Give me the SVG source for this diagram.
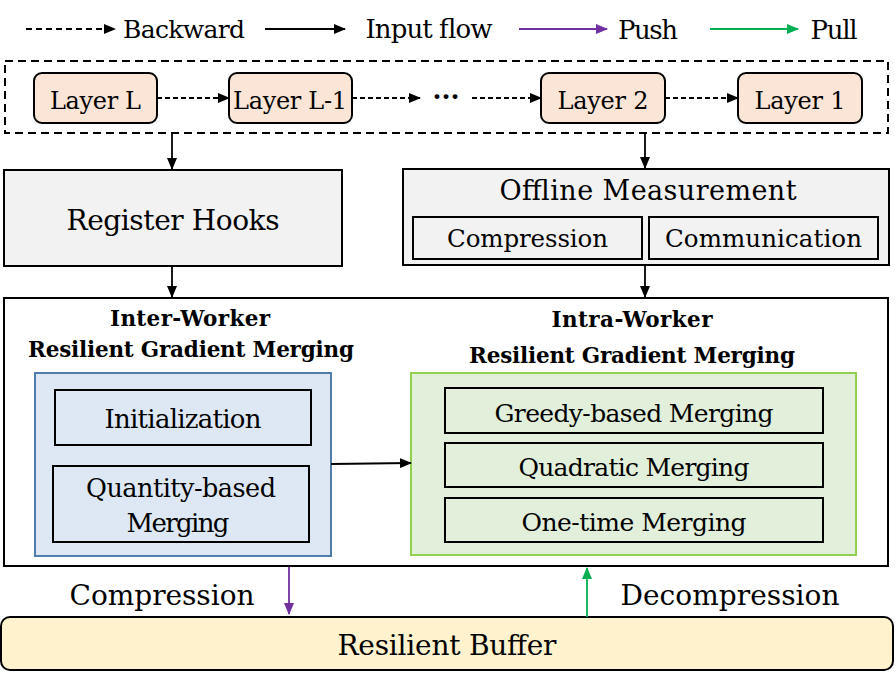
<svg xmlns="http://www.w3.org/2000/svg" width="895" height="684" viewBox="0 0 895 684">
<style>
text{font-family:"DejaVu Serif","Liberation Serif",serif;fill:#000;text-anchor:middle}
.b{font-weight:bold}
.box{stroke:#000;stroke-width:2}
.ln{fill:none;stroke:#000;stroke-width:1.8}
.dash{stroke-dasharray:5 3}
</style>
<defs>
<marker id="ah" markerUnits="userSpaceOnUse" markerWidth="12" markerHeight="10" refX="11" refY="5" orient="auto"><path d="M0,0 L12,5 L0,10 Z" fill="#000"/></marker>
<marker id="ahp" markerUnits="userSpaceOnUse" markerWidth="12" markerHeight="10" refX="11" refY="5" orient="auto"><path d="M0,0 L12,5 L0,10 Z" fill="#7030a0"/></marker>
<marker id="ahg" markerUnits="userSpaceOnUse" markerWidth="12" markerHeight="10" refX="11" refY="5" orient="auto"><path d="M0,0 L12,5 L0,10 Z" fill="#00b050"/></marker>
</defs>
<rect width="895" height="684" fill="#fff"/>

<g id="legend">
<line x1="26" y1="29" x2="115" y2="29" class="ln" stroke-dasharray="6 4" marker-end="url(#ah)"/>
<text x="184" y="38" font-size="25" textLength="122">Backward</text>
<line x1="265" y1="29" x2="345" y2="29" class="ln" marker-end="url(#ah)"/>
<text x="429" y="38" font-size="26" textLength="127">Input flow</text>
<line x1="519" y1="29" x2="607" y2="29" class="ln" style="stroke:#7030a0" marker-end="url(#ahp)"/>
<text x="648" y="39" font-size="26" textLength="60">Push</text>
<line x1="710" y1="29" x2="798" y2="29" class="ln" style="stroke:#00b050" marker-end="url(#ahg)"/>
<text x="834" y="39" font-size="26" textLength="47">Pull</text>
</g>

<g id="layers">
<rect x="5" y="61" width="883" height="72" fill="none" stroke="#000" stroke-width="2" stroke-dasharray="8 5"/>
<g id="layerL"><rect x="34" y="73" width="123" height="50" rx="8" fill="#fbe5d6" class="box"/><text x="95.5" y="109" font-size="24" textLength="91">Layer L</text></g>
<g id="layerL1"><rect x="229" y="73" width="123" height="50" rx="8" fill="#fbe5d6" class="box"/><text x="290" y="109" font-size="24" textLength="114">Layer L-1</text></g>
<text x="446" y="106" font-size="26" class="b">···</text>
<g id="layer2"><rect x="541" y="73" width="124" height="50" rx="8" fill="#fbe5d6" class="box"/><text x="603" y="109" font-size="24" textLength="91">Layer 2</text></g>
<g id="layer1"><rect x="738" y="73" width="124" height="50" rx="8" fill="#fbe5d6" class="box"/><text x="800" y="109" font-size="24" textLength="91">Layer 1</text></g>
</g>

<g id="registerHooks">
<rect x="4" y="170" width="338" height="96" fill="#f2f2f2" class="box"/>
<text x="173" y="230" font-size="28" textLength="213">Register Hooks</text>
</g>

<g id="offline">
<rect x="403" y="169" width="486" height="96" fill="#f2f2f2" class="box"/>
<text x="648" y="200" font-size="27" textLength="297">Offline Measurement</text>
<rect x="413" y="217" width="229" height="42" fill="#f2f2f2" class="box"/>
<text x="527.5" y="247" font-size="24.5" textLength="161">Compression</text>
<rect x="649" y="217" width="229" height="42" fill="#f2f2f2" class="box"/>
<text x="763.5" y="247" font-size="24.5" textLength="197">Communication</text>
</g>

<g id="merging">
<rect x="4" y="298" width="884" height="268" fill="#fff" class="box"/>
<text x="190" y="326" font-size="21.5" class="b" textLength="160">Inter-Worker</text>
<text x="191" y="357" font-size="21.5" class="b" textLength="326">Resilient Gradient Merging</text>
<text x="632" y="327" font-size="21.5" class="b" textLength="161">Intra-Worker</text>
<text x="632" y="363" font-size="21.5" class="b" textLength="326">Resilient Gradient Merging</text>
</g>

<g id="inter">
<rect x="35" y="373" width="296" height="183" fill="#dde8f4" stroke="#4f7cac" stroke-width="2"/>
<rect x="55" y="390" width="256" height="55" fill="#dde8f4" class="box"/>
<text x="183" y="428" font-size="26" textLength="157">Initialization</text>
<rect x="53" y="466" width="256" height="76" fill="#dde8f4" class="box"/>
<text x="181" y="497" font-size="25.5" textLength="190">Quantity-based</text>
<text x="178" y="532" font-size="26" textLength="103">Merging</text>
</g>

<g id="intra">
<rect x="411" y="373" width="445" height="182" fill="#e2efda" stroke="#92d050" stroke-width="2"/>
<rect x="445" y="388" width="378" height="45" fill="#e2efda" class="box"/>
<text x="634" y="422" font-size="25" textLength="279">Greedy-based Merging</text>
<rect x="445" y="443" width="378" height="44" fill="#e2efda" class="box"/>
<text x="634" y="476" font-size="25" textLength="231">Quadratic Merging</text>
<rect x="445" y="498" width="378" height="44" fill="#e2efda" class="box"/>
<text x="634" y="531" font-size="25" textLength="225">One-time Merging</text>
</g>

<g id="buffer">
<rect x="1" y="617" width="892" height="53" rx="9" fill="#fff2cc" class="box"/>
<text x="447" y="655" font-size="28" textLength="219">Resilient Buffer</text>
</g>

<g id="connectors">
<line x1="157" y1="98" x2="229" y2="98" class="ln dash" marker-end="url(#ah)"/>
<line x1="352" y1="98" x2="420" y2="98" class="ln dash" marker-end="url(#ah)"/>
<line x1="472" y1="98" x2="541" y2="98" class="ln dash" marker-end="url(#ah)"/>
<line x1="665" y1="98" x2="738" y2="98" class="ln dash" marker-end="url(#ah)"/>
<line x1="172" y1="133" x2="172" y2="169" class="ln" marker-end="url(#ah)"/>
<line x1="645" y1="133" x2="645" y2="168" class="ln" marker-end="url(#ah)"/>
<line x1="172" y1="266" x2="172" y2="297" class="ln" marker-end="url(#ah)"/>
<line x1="645" y1="265" x2="645" y2="297" class="ln" marker-end="url(#ah)"/>
<line x1="331" y1="464" x2="411" y2="463" class="ln" marker-end="url(#ah)"/>
<line x1="289" y1="567" x2="289" y2="614" class="ln" style="stroke:#7030a0" marker-end="url(#ahp)"/>
<line x1="587" y1="617" x2="587" y2="568" class="ln" style="stroke:#00b050" marker-end="url(#ahg)"/>
<text x="162" y="605" font-size="28" textLength="185">Compression</text>
<text x="730" y="605" font-size="28" textLength="219">Decompression</text>
</g>
</svg>
